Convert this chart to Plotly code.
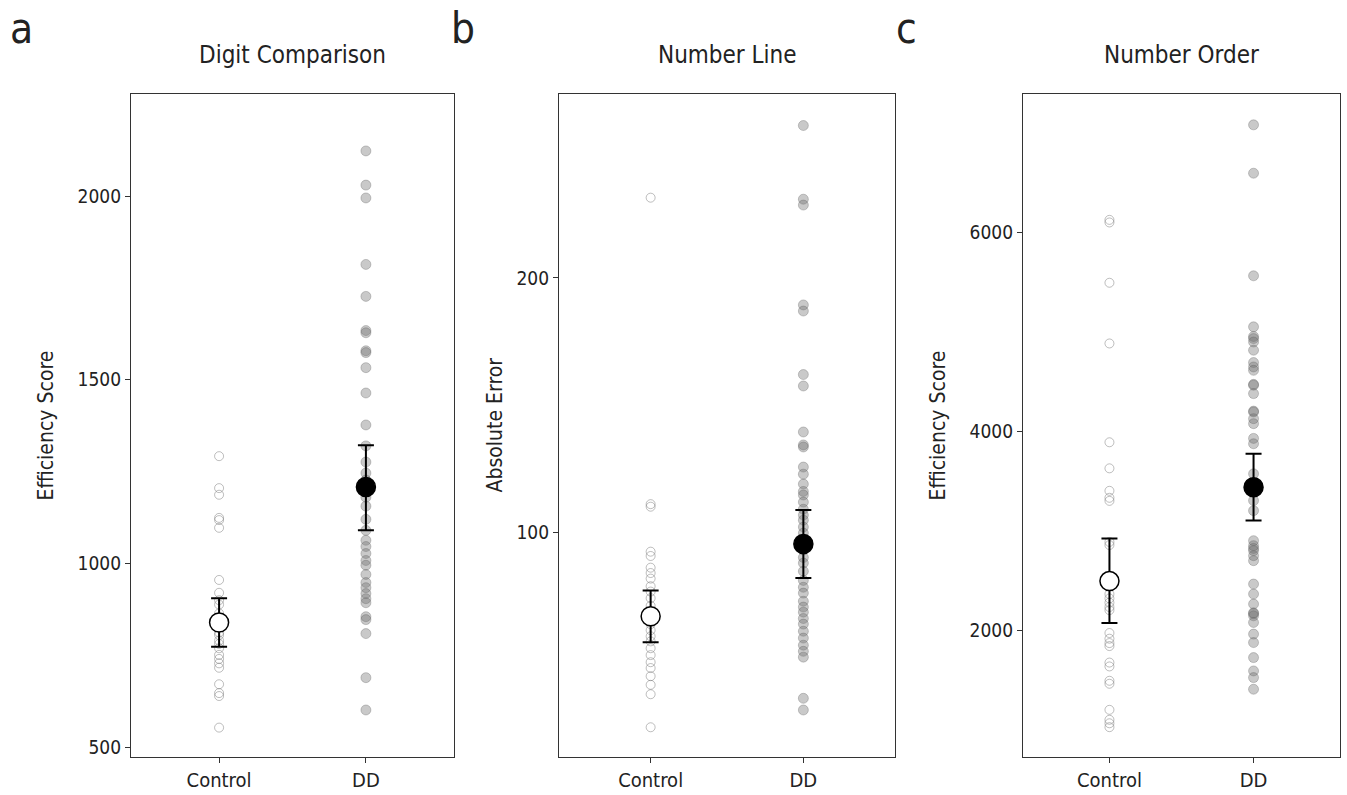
import plotly.graph_objects as go

W, H = 1347, 795
FONT = "Liberation Sans Narrow, DejaVu Sans Condensed, Arial Narrow, sans-serif"

groups = ["Control", "DD"]
panel_titles = ["Digit Comparison", "Number Line", "Number Order"]
panel_letters = ["a", "b", "c"]
y_titles = ["Efficiency Score", "Absolute Error", "Efficiency Score"]

# Panel a: Digit Comparison
dc_control = [1292, 1205, 1187, 1124, 1118, 1097, 955, 920, 900, 888, 864, 845, 828,
              812, 805, 790, 781, 769, 751, 740, 728, 716, 671, 647, 639, 553]
dc_dd = [2123, 2030, 1995, 1814, 1727, 1634, 1628, 1579, 1574, 1533, 1464, 1377, 1320,
         1276, 1246, 1227, 1210, 1180, 1156, 1120, 1090, 1063, 1046, 1027, 1008, 995,
         970, 948, 934, 918, 904, 893, 855, 847, 809, 689, 601]
dc_mean = [839, 1208]
dc_low = [773, 1090]
dc_high = [905, 1322]

# Panel b: Number Line
nl_control = [231.6, 111, 110, 92.3, 90.6, 86, 83.9, 81.7, 78.7, 76.6, 74, 71, 68.5,
              65.7, 63.8, 61.4, 59, 57, 54.3, 51.6, 48.8, 46.5, 43.3, 39.9, 36.2, 23.2]
nl_dd = [260, 231, 228.7, 189.4, 187, 162, 157.5, 139.4, 134.3, 133.5, 125.6, 122.8,
         118.9, 116, 114.6, 111.8, 109, 106.7, 104.7, 102, 99.6, 97, 93, 90, 87.8, 84.6,
         81, 78.3, 76, 72.8, 70.5, 68.5, 66, 63.8, 61, 58.3, 55.5, 53.1, 50.8, 34.6, 30]
nl_mean = [66.9, 95.3]
nl_low = [56.7, 81.9]
nl_high = [77, 108.7]

# Panel c: Number Order
no_control = [6122, 6096, 5490, 4880, 3887, 3625, 3399, 3329, 3298, 2885, 2854, 2362,
              2318, 2275, 2231, 2200, 1970, 1913, 1869, 1839, 1673, 1634, 1490, 1460,
              1198, 1098, 1063, 1024]
no_dd = [7077, 6591, 5560, 5047, 4950, 4929, 4895, 4812, 4688, 4644, 4610, 4469, 4460,
         4376, 4200, 4191, 4124, 4074, 3926, 3872, 3570, 3301, 3200, 2898, 2848, 2820,
         2798, 2747, 2697, 2462, 2362, 2261, 2173, 2165, 2143, 2076, 1959, 1874, 1723,
         1589, 1522, 1405]
no_mean = [2492, 3435]
no_low = [2070, 3100]
no_high = [2919, 3771]

y_ranges = [[473, 2278], [11.5, 272.4], [724, 7387]]
y_ticks = [[500, 1000, 1500, 2000], [100, 200], [2000, 4000, 6000]]

panels = [
    (dc_control, dc_dd, dc_mean, dc_low, dc_high),
    (nl_control, nl_dd, nl_mean, nl_low, nl_high),
    (no_control, no_dd, no_mean, no_low, no_high),
]

# pixel layout
box_x = [(131, 454), (559, 895), (1023, 1340)]
box_top, box_bottom = 94, 757
letter_x = [21, 463, 907]
ytitle_x = [45, 494, 937]

fig = go.Figure()
for i, (ctrl, dd, mean, low, high) in enumerate(panels):
    sfx = "" if i == 0 else str(i + 1)
    xa, ya = "x" + sfx, "y" + sfx
    fig.add_trace(go.Scatter(
        x=[groups[0]] * len(ctrl), y=ctrl, mode="markers", xaxis=xa, yaxis=ya,
        marker=dict(symbol="circle-open", size=9, color="rgba(110,110,110,0.45)",
                    line=dict(width=1)),
        showlegend=False, hoverinfo="y"))
    fig.add_trace(go.Scatter(
        x=[groups[1]] * len(dd), y=dd, mode="markers", xaxis=xa, yaxis=ya,
        marker=dict(symbol="circle", size=10, color="rgba(105,105,105,0.36)",
                    line=dict(width=1, color="rgba(90,90,90,0.3)")),
        showlegend=False, hoverinfo="y"))
    fig.add_trace(go.Scatter(
        x=groups, y=mean, mode="markers", xaxis=xa, yaxis=ya,
        error_y=dict(type="data", symmetric=False,
                     array=[h - m for h, m in zip(high, mean)],
                     arrayminus=[m - l for m, l in zip(mean, low)],
                     color="black", thickness=2, width=8),
        marker=dict(symbol="circle", size=19, color=["white", "black"],
                    line=dict(width=1.5, color="black")),
        showlegend=False, hoverinfo="y"))

    x0, x1 = box_x[i]
    common = dict(showline=True, mirror=True, linecolor="#333", linewidth=1.3,
                  ticks="outside", ticklen=5, tickcolor="#333", tickwidth=1.2,
                  showgrid=False, zeroline=False)
    fig.update_layout(**{
        "xaxis" + sfx: dict(domain=[x0 / W, x1 / W], anchor=ya, type="category",
                            range=[-0.6, 1.6],
                            tickfont=dict(family=FONT, size=20, color="#222"), **common),
        "yaxis" + sfx: dict(domain=[1 - box_bottom / H, 1 - box_top / H], anchor=xa,
                            range=y_ranges[i], tickvals=y_ticks[i],
                            tickfont=dict(family=FONT, size=19, color="#222"), **common),
    })
    fig.add_annotation(text=panel_titles[i], x=(x0 + x1) / 2 / W, y=1 - 55 / H,
                       xref="paper", yref="paper", showarrow=False,
                       xanchor="center", yanchor="middle",
                       font=dict(family=FONT, size=24, color="#222"))
    fig.add_annotation(text=panel_letters[i], x=letter_x[i] / W, y=1 - 29 / H,
                       xref="paper", yref="paper", showarrow=False,
                       xanchor="center", yanchor="middle",
                       font=dict(family=FONT, size=42, color="#222"))
    fig.add_annotation(text=y_titles[i], x=ytitle_x[i] / W,
                       y=1 - (box_top + box_bottom) / 2 / H,
                       xref="paper", yref="paper", showarrow=False, textangle=-90,
                       xanchor="center", yanchor="middle",
                       font=dict(family=FONT, size=21, color="#222"))

fig.update_layout(width=W, height=H, margin=dict(l=0, r=0, t=0, b=0),
                  paper_bgcolor="white", plot_bgcolor="white")
fig.write_html("out.html", config={"displayModeBar": False},
               post_script="document.body.style.margin='0';"
                           "document.body.style.overflow='hidden';")
